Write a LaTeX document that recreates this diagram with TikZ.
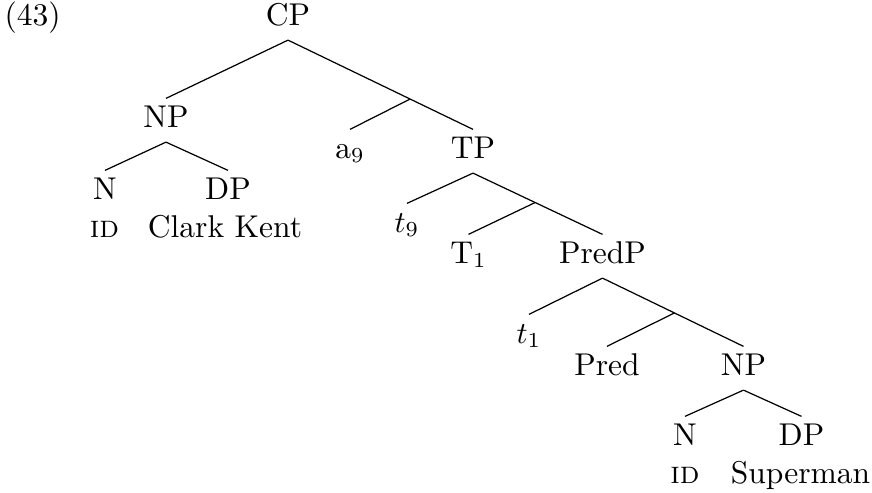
\documentclass[tikz,border=0pt]{standalone}
\usepackage{tikz}
\usetikzlibrary{calc}
\begin{document}
\begin{tikzpicture}[x=0.01149cm, y=-0.01149cm,
    every node/.style={anchor=base, inner sep=2pt, text height=7.16pt, text depth=2.74pt,
      font=\fontsize{10.3}{12.4}\selectfont}]

    \useasboundingbox (0, 0) rectangle (872, 492);

    \node[anchor=base west, inner sep=0pt] (ex) at (4, 25) {(43)};
    \node (cp) at (288, 25) {CP};
    \node (np1) at (166, 127) {NP};
    \node (a9) at (350, 158) {a$_9$};
    \node (tp) at (473, 158) {TP};
    \node (n1) at (105, 199) {N};
    \node (dp1) at (228, 199) {DP};
    \node (id1) at (104.5, 237) {\textsc{id}};
    \node (ck) at (225, 237) {Clark Kent};
    \node (t9) at (407, 232) {$t_9$};
    \node (t1) at (468.5, 263) {T$_1$};
    \node (predp) at (602.5, 263) {PredP};
    \node (tt1) at (529, 343) {$t_1$};
    \node (pred) at (607, 375) {Pred};
    \node (np2) at (743.5, 375) {NP};
    \node (n2) at (685, 445) {N};
    \node (dp2) at (801.5, 445) {DP};
    \node (id2) at (685, 483) {\textsc{id}};
    \node (sm) at (800.5, 483) {Superman};

    \coordinate (j1) at ($(cp.south)!0.66!(tp.north)$);
    \coordinate (j2) at ($(tp.south)!0.48!(predp.north)$);
    \coordinate (j3) at ($(predp.south)!0.51!(np2.north)$);

    \draw (cp.south) to (np1.north);
    \draw (cp.south) to (tp.north);
    \draw (j1) to (a9.north);
    \draw (np1.south) to (n1.north);
    \draw (np1.south) to (dp1.north);
    \draw (tp.south) to (t9.north);
    \draw (tp.south) to (predp.north);
    \draw (j2) to (t1.north);
    \draw (predp.south) to (tt1.north);
    \draw (predp.south) to (np2.north);
    \draw (j3) to (pred.north);
    \draw (np2.south) to (n2.north);
    \draw (np2.south) to (dp2.north);

\end{tikzpicture}
\end{document}
